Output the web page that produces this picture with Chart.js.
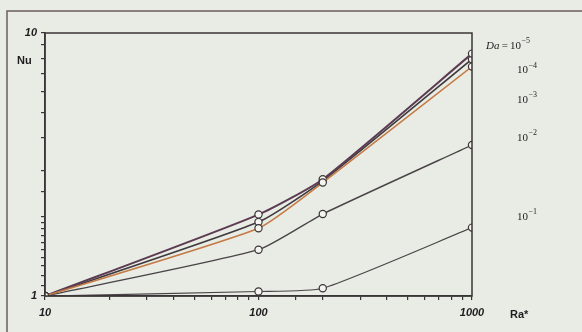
<!DOCTYPE html>
<html><head><meta charset="utf-8">
<script src="https://cdn.jsdelivr.net/npm/chart.js@4/dist/chart.umd.min.js"></script>
<style>html,body{margin:0;padding:0;background:#e9ece5;}#wrap{width:582px;height:332px;position:relative;}</style>
</head><body><div id="wrap"><canvas id="c" width="582" height="332"></canvas></div>
<script>
const raValues = [10, 100, 200, 1000];
const nuDa1e5 = [1, 2.04, 2.78, 8.35];
const nuDa1e4 = [1, 1.91, 2.74, 7.95];
const nuDa1e3 = [1, 1.81, 2.70, 7.45];
const nuDa1e2 = [1, 1.50, 2.05, 3.75];
const nuDa1e1 = [1, 1.04, 1.07, 1.82];
const seriesExponents = ['-5', '-4', '-3', '-2', '-1'];
const yTickLabels = [1, 10];
const xTickLabels = [10, 100, 1000];

const seriesList = [nuDa1e5, nuDa1e4, nuDa1e3, nuDa1e2, nuDa1e1];
const lineColors = ['#5c3c52', '#3e3a3e', '#c47a45', '#4a4448', '#4a4448'];
const lineWidths = [2, 1.6, 1.5, 1.4, 1.2];

const datasets = seriesList.map((s, i) => ({
  label: 'Da=10^' + seriesExponents[i],
  data: s.map((v, j) => ({x: raValues[j], y: v})),
  borderColor: lineColors[i],
  borderWidth: lineWidths[i],
  tension: 0.18,
  pointRadius: 3.6,
  pointBackgroundColor: '#f4f5f0',
  pointBorderColor: '#3a3436',
  pointBorderWidth: 1.2,
  order: i === 2 ? 0 : 1
}));

const labelNu = [8.9, 7.2, 5.55, 4.0, 2.0];

const deco = {
  id: 'deco',
  beforeDraw(chart) {
    const ctx = chart.ctx;
    ctx.save();
    ctx.strokeStyle = '#6a5c5e';
    ctx.lineWidth = 1.5;
    ctx.beginPath();
    ctx.moveTo(7, 332); ctx.lineTo(7, 11); ctx.lineTo(582, 11);
    ctx.stroke();
    ctx.restore();
  },
  afterDraw(chart) {
    const ctx = chart.ctx, a = chart.chartArea, ys = chart.scales.y;
    ctx.save();
    ctx.strokeStyle = '#3a3436';
    ctx.lineWidth = 1.5;
    ctx.strokeRect(a.left, a.top, a.right - a.left, a.bottom - a.top);
    ctx.fillStyle = '#1e1c1e';
    ctx.font = 'bold 11px "Liberation Sans", Arial, sans-serif';
    ctx.textBaseline = 'middle';
    ctx.textAlign = 'left';
    ctx.fillText('Nu', 17, 61);
    ctx.fillText('Ra*', 510, 315);
    const serif = '"Liberation Serif", "DejaVu Serif", serif';
    const lx = a.right + 45;
    labelNu.forEach((nu, i) => {
      const y = ys.getPixelForValue(nu);
      let x = lx;
      ctx.font = '11px ' + serif;
      if (i === 0) {
        ctx.font = 'italic 11px ' + serif;
        ctx.fillText('Da', a.right + 14, y);
        const w = ctx.measureText('Da').width;
        ctx.font = '11px ' + serif;
        ctx.fillText('\u2009=\u2009', a.right + 14 + w, y);
        x = a.right + 14 + w + ctx.measureText('\u2009=\u2009').width;
      }
      ctx.fillText('10', x, y);
      const w2 = ctx.measureText('10').width;
      ctx.font = '8px ' + serif;
      ctx.fillText(seriesExponents[i].replace('-', '\u2212'), x + w2 + 0.5, y - 5);
    });
    ctx.restore();
  }
};

new Chart(document.getElementById('c'), {
  type: 'line',
  data: {datasets},
  plugins: [deco],
  options: {
    responsive: false,
    animation: false,
    layout: {padding: {left: 0, top: 33, right: 110, bottom: 0}},
    plugins: {legend: {display: false}, tooltip: {enabled: false}},
    scales: {
      x: {
        type: 'logarithmic', min: 10, max: 1000,
        border: {display: true, color: '#3a3436', width: 1.5},
        grid: {drawOnChartArea: false, drawTicks: true, tickLength: 4, color: '#3a3436', lineWidth: 1.2},
        ticks: {
          autoSkip: false, maxRotation: 0, padding: 6, color: '#1e1c1e',
          font: {family: '"Liberation Sans", Arial, sans-serif', size: 11, weight: 'bold', style: 'italic'},
          callback: (v) => xTickLabels.includes(v) ? String(v) : ''
        },
        afterFit(s) { s.height = 36; }
      },
      y: {
        type: 'logarithmic', min: 1, max: 10,
        border: {display: true, color: '#3a3436', width: 1.5},
        grid: {drawOnChartArea: false, drawTicks: true, tickLength: 4, color: '#3a3436', lineWidth: 1.2},
        ticks: {
          autoSkip: false, padding: 4, color: '#1e1c1e',
          font: {family: '"Liberation Sans", Arial, sans-serif', size: 11, weight: 'bold', style: 'italic'},
          callback: (v) => yTickLabels.includes(v) ? String(v) : ''
        },
        afterFit(s) { s.width = 45; }
      }
    }
  }
});
</script></body></html>
